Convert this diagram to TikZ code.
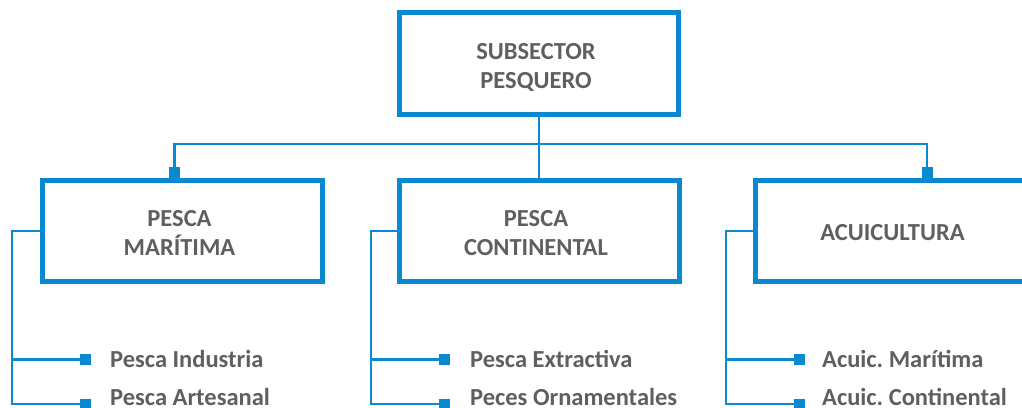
\documentclass[tikz,border=0pt]{standalone}
\usepackage{fontspec}
\setmainfont{Carlito}
\definecolor{cblue}{HTML}{0A88D0}
\definecolor{cgray}{HTML}{5F5F5F}
\begin{document}
\frenchspacing
\begin{tikzpicture}[x=1pt,y=-1pt,
  box/.style={draw=cblue, line width=5pt, minimum width=280pt, minimum height=101pt, inner sep=0pt},
  boxtext/.style={inner sep=0pt, align=center, text=cgray, font=\fontsize{24.5}{29}\selectfont\bfseries},
  conn/.style={draw=cblue, line width=2.5pt},
  sq/.style={fill=cblue, minimum size=11pt, inner sep=0pt},
  item/.style={anchor=base west, inner sep=0pt, text=cgray, font=\fontsize{24.5}{29}\selectfont\bfseries}]
\useasboundingbox (0,0) rectangle (1022,407);
\clip (0,0) rectangle (1022,407);
% boxes
\node[box, minimum width=279pt, minimum height=102pt] (top) at (539,63.5) {};
\node[box] (lft) at (182.5,231) {};
\node[box] (mid) at (539,231) {};
\node[box] (rgt) at (895.5,231) {};
\node[boxtext] (topt) at ([xshift=-3pt,yshift=-4pt]top.center) {SUBSECTOR\\PESQUERO};
\node[boxtext] (lftt) at ([xshift=-3pt,yshift=-2pt]lft.center) {PESCA\\MARÍTIMA};
\node[boxtext] (midt) at ([xshift=-3pt,yshift=-2pt]mid.center) {PESCA\\CONTINENTAL};
\node[boxtext] (rgtt) at ([xshift=-3pt,yshift=-2pt]rgt.center) {ACUICULTURA};
% top connectors
\node[sq] (sqL) at (174.5,172.5) {};
\node[sq] (sqR) at (927,172.5) {};
\coordinate (jM) at (539,144);
\draw[conn] (top.south) -- (mid.north);
\draw[conn] (sqL.north) |- (jM) -| (sqR.north);
% left branch
\coordinate (vL) at (12,231);
\node[sq] (l1) at (85.5,359.5) {};
\node[sq] (l2) at (85.5,404) {};
\draw[conn] (lft.west) -- (vL) |- (l2.west);
\draw[conn] (vL |- l1) -- (l1.west);
\node[item] (tl1) at (110,367) {Pesca Industria};
\node[item] (tl2) at (110,405.5) {Pesca Artesanal};
% middle branch
\coordinate (vM) at (371,231);
\node[sq] (m1) at (444.5,359.5) {};
\node[sq] (m2) at (444.5,404) {};
\draw[conn] (mid.west) -- (vM) |- (m2.west);
\draw[conn] (vM |- m1) -- (m1.west);
\node[item] (tm1) at (470,367) {Pesca Extractiva};
\node[item] (tm2) at (470,405.5) {Peces Ornamentales};
% right branch
\coordinate (vR) at (726,231);
\node[sq] (r1) at (799.5,359.5) {};
\node[sq] (r2) at (799.5,404) {};
\draw[conn] (rgt.west) -- (vR) |- (r2.west);
\draw[conn] (vR |- r1) -- (r1.west);
\node[item] (tr1) at (822,367) {Acuic. Marítima};
\node[item] (tr2) at (822,405.5) {Acuic. Continental};
\end{tikzpicture}
\end{document}
